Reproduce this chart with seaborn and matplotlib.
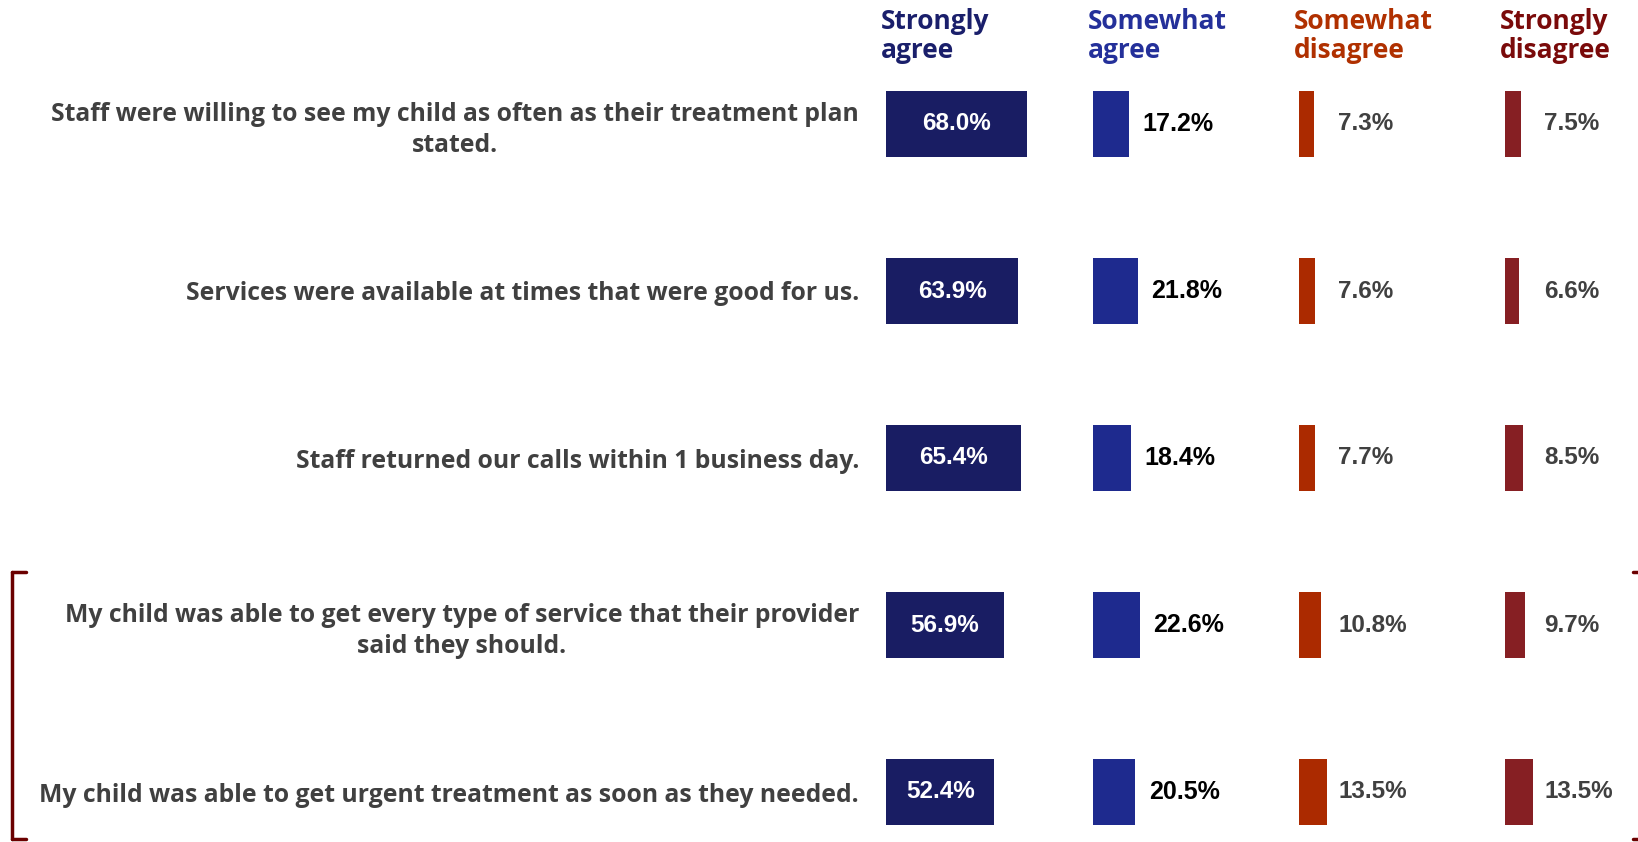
import matplotlib
matplotlib.use("Agg")
import matplotlib.pyplot as plt
import seaborn as sns
import pandas as pd
from matplotlib.lines import Line2D

# --- Datos ---
preguntas = [
    "Staff were willing to see my child as often as their treatment plan\nstated.",
    "Services were available at times that were good for us.",
    "Staff returned our calls within 1 business day.",
    "My child was able to get every type of service that their provider\nsaid they should.",
    "My child was able to get urgent treatment as soon as they needed.",
]
categorias = ["Strongly\nagree", "Somewhat\nagree", "Somewhat\ndisagree", "Strongly\ndisagree"]
strongly_agree = [68.0, 63.9, 65.4, 56.9, 52.4]
somewhat_agree = [17.2, 21.8, 18.4, 22.6, 20.5]
somewhat_disagree = [7.3, 7.6, 7.7, 10.8, 13.5]
strongly_disagree = [7.5, 6.6, 8.5, 9.7, 13.5]

series = [strongly_agree, somewhat_agree, somewhat_disagree, strongly_disagree]
colores_barra = ["#191d63", "#1e2a8e", "#ab2a00", "#861f23"]
colores_titulo = ["#1a1f6b", "#24309a", "#b03000", "#7a0a0a"]

# --- Estilo ---
sns.set_theme(style="white")
plt.rcParams["font.family"] = ["Open Sans", "DejaVu Sans"]

W, H = 1638, 842
fig = plt.figure(figsize=(W / 100, H / 100), dpi=100)

px_por_pct = 2.07
col_left = [886, 1093, 1299, 1505]
row0, paso = 124, 167
y_top = -row0 / paso
y_bot = (H - row0) / paso

for i, (vals, col) in enumerate(zip(series, colores_barra)):
    ancho_px = 200 if i < 3 else W - col_left[i]
    ax = fig.add_axes([col_left[i] / W, 0, ancho_px / W, 1])
    df = pd.DataFrame({"pregunta": preguntas, "valor": vals})
    sns.barplot(data=df, x="valor", y="pregunta", color=col, orient="h",
                width=0.4, saturation=1, edgecolor="none", ax=ax)
    ax.set_xlim(0, ancho_px / px_por_pct)
    ax.set_ylim(y_bot, y_top)
    ax.set_xlabel("")
    ax.set_ylabel("")
    ax.set_xticks([])
    sns.despine(ax=ax, left=True, bottom=True)
    ax.patch.set_alpha(0)

    for j, v in enumerate(vals):
        if i == 0:
            ax.text(v / 2, j, f"{v:.1f}%", ha="center", va="center", color="white",
                    fontsize=17.5, fontweight="bold", family="Liberation Sans")
        elif i == 1:
            ax.text(v + 6.5, j, f"{v:.1f}%", ha="left", va="center", color="black",
                    fontsize=18, fontweight="bold", family="Liberation Sans")
        else:
            ax.text(max(v + 5, 19), j, f"{v:.1f}%", ha="left", va="center", color="#404040",
                    fontsize=17.5, fontweight="bold", family="Liberation Sans")

    if i == 0:
        ax.tick_params(axis="y", length=0, pad=19.5)
        for t in ax.get_yticklabels():
            t.set_fontsize(17.8)
            t.set_fontweight("bold")
            t.set_color("#404040")
            t.set_multialignment("center")
            t.set_linespacing(1.3)
    else:
        ax.set_yticks([])

    # encabezado de columna
    fig.text((col_left[i] - 5) / W, 1 - 8 / H, categorias[i], ha="left", va="top",
             fontsize=19, fontweight="bold", color=colores_titulo[i], linespacing=1.1)

# --- Corchete ---
c = "#6b0000"
fig.add_artist(Line2D([12 / W, 12 / W], [1 - 572 / H, 1 - 839 / H], color=c, lw=2.5,
                      transform=fig.transFigure))
fig.add_artist(Line2D([12 / W, 26 / W], [1 - 572 / H, 1 - 572 / H], color=c, lw=2.5,
                      transform=fig.transFigure))
fig.add_artist(Line2D([12 / W, 26 / W], [1 - 839 / H, 1 - 839 / H], color=c, lw=2.5,
                      transform=fig.transFigure))
for yy in (572, 839):
    fig.add_artist(Line2D([1633 / W, 1638 / W], [1 - yy / H, 1 - yy / H], color=c, lw=2.5,
                          transform=fig.transFigure))

fig.savefig("out.png", dpi=100)
